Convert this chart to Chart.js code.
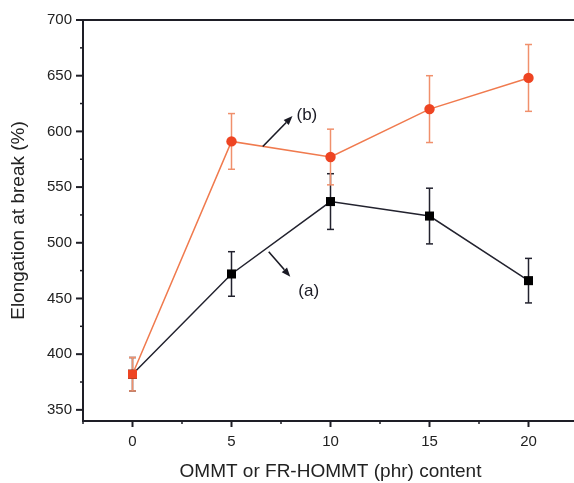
<!DOCTYPE html>
<html>
<head>
<meta charset="utf-8">
<script src="https://cdn.jsdelivr.net/npm/chart.js@4.4.1/dist/chart.umd.min.js"></script>
<style>
    html, body { margin: 0; padding: 0; background: #fff; overflow: hidden; }
    #wrap { position: absolute; left: 0; top: 0; width: 590px; height: 483px; }
</style>
</head>
<body>
<div id="wrap"><canvas id="elongChart" width="590" height="483"></canvas></div>
<script>
// filler content (phr) and elongation at break (%)
const contents = [0, 5, 10, 15, 20];
const elongA = [382, 472, 537, 524, 466];   // (a) OMMT
const errA = [15, 20, 25, 25, 20];
const elongB = [382, 591, 577, 620, 648];   // (b) FR-HOMMT
const errB = [15, 25, 25, 30, 30];
const pointShapesB = ["rect", "circle", "circle", "circle", "circle"];

// callouts: [label, line x, line y, tip x, tip y] in data units
const callouts = [
    ["(b)", 6.58, 586.4, 8.08, 613.8],
    ["(a)", 6.88, 491.9, 7.97, 469.6]
];

const axisColor = "#1e1e26";
const colorA = "#22222e";
const colorB = "#f07a4e";
const markerB = "#ee4422";
const fontFamily = "'Liberation Sans', Arial, sans-serif";

function toPoints(values) {
    return contents.map((c, i) => ({ x: c, y: values[i] }));
}

function line(ctx, x1, y1, x2, y2) {
    ctx.beginPath();
    ctx.moveTo(x1, y1);
    ctx.lineTo(x2, y2);
    ctx.stroke();
}

const extras = {
    id: "extras",
    beforeDatasetsDraw(chart) {
        const ctx = chart.ctx;
        const xs = chart.scales.x;
        const ys = chart.scales.y;
        ctx.save();
        // error bars, (a) first so (b) sits on top
        [[elongA, errA, colorA], [elongB, errB, "#f0906c"]].forEach(([vals, errs, col]) => {
            ctx.strokeStyle = col;
            ctx.lineWidth = 1.5;
            vals.forEach((v, i) => {
                const px = xs.getPixelForValue(contents[i]);
                const top = ys.getPixelForValue(v + errs[i]);
                const bot = ys.getPixelForValue(v - errs[i]);
                line(ctx, px, top, px, bot);
                line(ctx, px - 3.5, top, px + 3.5, top);
                line(ctx, px - 3.5, bot, px + 3.5, bot);
            });
        });
        ctx.restore();
    },
    afterDraw(chart) {
        const ctx = chart.ctx;
        const area = chart.chartArea;
        const xs = chart.scales.x;
        const ys = chart.scales.y;
        ctx.save();
        ctx.strokeStyle = axisColor;

        // top frame line
        ctx.lineWidth = 2;
        line(ctx, area.left - 1, area.top, chart.width, area.top);

        // tick marks, major longer than minor
        xs.ticks.forEach(t => {
            const px = xs.getPixelForValue(t.value);
            const major = t.value % 5 === 0;
            ctx.lineWidth = major ? 2 : 1.5;
            line(ctx, px, area.bottom, px, area.bottom + (major ? 6 : 3));
        });
        ys.ticks.forEach(t => {
            const py = ys.getPixelForValue(t.value);
            const major = t.value % 50 === 0;
            ctx.lineWidth = major ? 2 : 1.5;
            line(ctx, area.left, py, area.left - (major ? 7 : 3), py);
        });

        // callout arrows
        ctx.strokeStyle = "#1a1a24";
        ctx.fillStyle = "#1a1a24";
        ctx.lineWidth = 1.6;
        ctx.font = "17px " + fontFamily;
        ctx.textBaseline = "middle";
        ctx.textAlign = "left";
        callouts.forEach(([label, x0, y0, x1, y1]) => {
            const ax = xs.getPixelForValue(x0), ay = ys.getPixelForValue(y0);
            const bx = xs.getPixelForValue(x1), by = ys.getPixelForValue(y1);
            const ang = Math.atan2(by - ay, bx - ax);
            const head = 9, half = 3.5;
            const hx = bx - head * Math.cos(ang), hy = by - head * Math.sin(ang);
            line(ctx, ax, ay, hx, hy);
            ctx.beginPath();
            ctx.moveTo(bx, by);
            ctx.lineTo(hx + half * Math.sin(ang), hy - half * Math.cos(ang));
            ctx.lineTo(hx - half * Math.sin(ang), hy + half * Math.cos(ang));
            ctx.closePath();
            ctx.fill();
            if (label === "(a)") {
                ctx.fillText(label, bx + 8, by + 15);
            } else {
                ctx.fillText(label, bx + 4, by - 1);
            }
        });
        ctx.restore();
    }
};

document.addEventListener("DOMContentLoaded", function () {
    const ctx = document.getElementById("elongChart").getContext("2d");
    new Chart(ctx, {
        type: "line",
        data: {
            datasets: [
                {
                    label: "(a)",
                    data: toPoints(elongA),
                    borderColor: colorA,
                    backgroundColor: "#000",
                    borderWidth: 1.5,
                    pointStyle: "rect",
                    pointRadius: 6.4,
                    pointBorderWidth: 0,
                    order: 1
                },
                {
                    label: "(b)",
                    data: toPoints(elongB),
                    borderColor: colorB,
                    backgroundColor: markerB,
                    borderWidth: 1.5,
                    pointStyle: pointShapesB,
                    pointRadius: [6.4, 5.2, 5.2, 5.2, 5.2],
                    pointBorderWidth: 0,
                    order: 0
                }
            ]
        },
        options: {
            responsive: false,
            animation: false,
            devicePixelRatio: 1,
            layout: { padding: { top: 17, right: 9, left: 0, bottom: 0 } },
            plugins: {
                legend: { display: false },
                tooltip: { enabled: false }
            },
            scales: {
                x: {
                    type: "linear",
                    min: -2.5,
                    max: 22.5,
                    afterFit: s => { s.height = 62; },
                    border: { color: axisColor, width: 2 },
                    grid: { display: false, drawTicks: false },
                    ticks: {
                        stepSize: 2.5,
                        autoSkip: false,
                        includeBounds: false,
                        padding: 12,
                        maxRotation: 0,
                        color: "#222",
                        font: { family: fontFamily, size: 15 },
                        callback: v => (v >= 0 && v % 5 === 0) ? v : ""
                    },
                    title: {
                        display: true,
                        text: "OMMT or FR-HOMMT (phr) content",
                        color: "#222",
                        font: { family: fontFamily, size: 19 },
                        padding: { top: 0, bottom: 0 }
                    }
                },
                y: {
                    min: 340,
                    max: 700,
                    afterFit: s => { s.width = 83; },
                    border: { color: axisColor, width: 2 },
                    grid: { display: false, drawTicks: false },
                    ticks: {
                        stepSize: 25,
                        autoSkip: false,
                        includeBounds: false,
                        padding: 11,
                        color: "#222",
                        font: { family: fontFamily, size: 15 },
                        callback: v => v % 50 === 0 ? v : ""
                    },
                    title: {
                        display: true,
                        text: "Elongation at break (%)",
                        color: "#222",
                        font: { family: fontFamily, size: 19 },
                        padding: { top: 7, bottom: 0 }
                    }
                }
            }
        },
        plugins: [extras]
    });
});
</script>
</body>
</html>
